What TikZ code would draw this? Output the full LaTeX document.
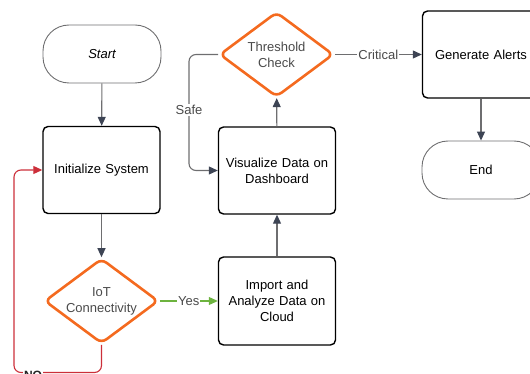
\documentclass[tikz,border=0pt]{standalone}
\usepackage{fontspec}
\setmainfont{Liberation Sans}
\usetikzlibrary{shapes.geometric,arrows.meta}
\definecolor{dec}{HTML}{F46A1F}
\definecolor{lnc}{HTML}{6E6E70}
\definecolor{tipc}{HTML}{3D4454}
\definecolor{txtg}{HTML}{4A4A4A}
\definecolor{grn}{HTML}{6DB33F}
\definecolor{redl}{HTML}{CC2F3A}
\tikzset{
  every node/.style={font=\fontsize{13}{16}\selectfont, align=center},
  term/.style={draw=lnc, line width=0.9pt, rectangle, rounded corners=26pt, minimum width=118pt, minimum height=58pt, inner sep=0pt},
  proc/.style={draw=black, line width=1.4pt, rectangle, rounded corners=5pt, minimum width=117pt, minimum height=87pt, inner sep=0pt, text width=112pt},
  dec/.style={draw=dec, line width=2.6pt, diamond, aspect=1.35, rounded corners=6pt, minimum width=114pt, minimum height=85pt, inner sep=0pt, text=txtg},
  flow/.style={draw=lnc, line width=1.1pt, -{Triangle[length=9pt,width=8pt,color=tipc]}},
  elabel/.style={fill=white, text=txtg, inner sep=1pt},
}
\begin{document}
\begin{tikzpicture}[x=1pt,y=-1pt]
\useasboundingbox (0,0) rectangle (530,374);
\node[term] (start) at (102,54) {\itshape Start};
\node[proc] (init) at (101.5,170) {Initialize System};
\node[dec] (iot) at (101.5,301) {IoT\\Connectivity};
\node[proc, minimum height=88pt] (imp) at (277,301) {Import and\\Analyze Data on\\Cloud};
\node[proc] (viz) at (277,170.5) {Visualize Data on\\Dashboard};
\node[dec] (thr) at (276.5,54.5) {Threshold\\Check};
\node[proc] (gen) at (481,54.5) {Generate Alerts};
\node[term] (end) at (481,170) {End};
\coordinate (nob) at (101.5,372.5);
\coordinate (noc) at (14,372.5);
\coordinate (safec) at (189,54.5);

\draw[flow] (start) -- (init);
\draw[flow] (init) -- (iot);
\draw[flow, draw=grn, -{Triangle[length=9pt,width=8pt,color=grn]}] (iot.east) -- node[elabel, text=txtg]{Yes} (imp.west);
\draw[flow, draw=redl, -{Triangle[length=9pt,width=8pt,color=redl]}, rounded corners=7pt]
  (iot.south) -- (nob) -- (noc) |- (init.west);
\node[fill=white, inner sep=1pt, font=\fontsize{12}{14}\selectfont\bfseries, text=black!85] (nolab) at (33,375) {NO};
\draw[flow] (imp) -- (viz);
\draw[flow] (viz) -- (thr);
\draw[flow, rounded corners=7pt] (thr.west) -- (safec) |- (viz.west);
\node[elabel] (safe) at (189,110) {Safe};
\draw[flow] (thr.east) -- node[elabel]{Critical} (gen.west);
\draw[flow] (gen) -- (end);
\end{tikzpicture}
\end{document}
